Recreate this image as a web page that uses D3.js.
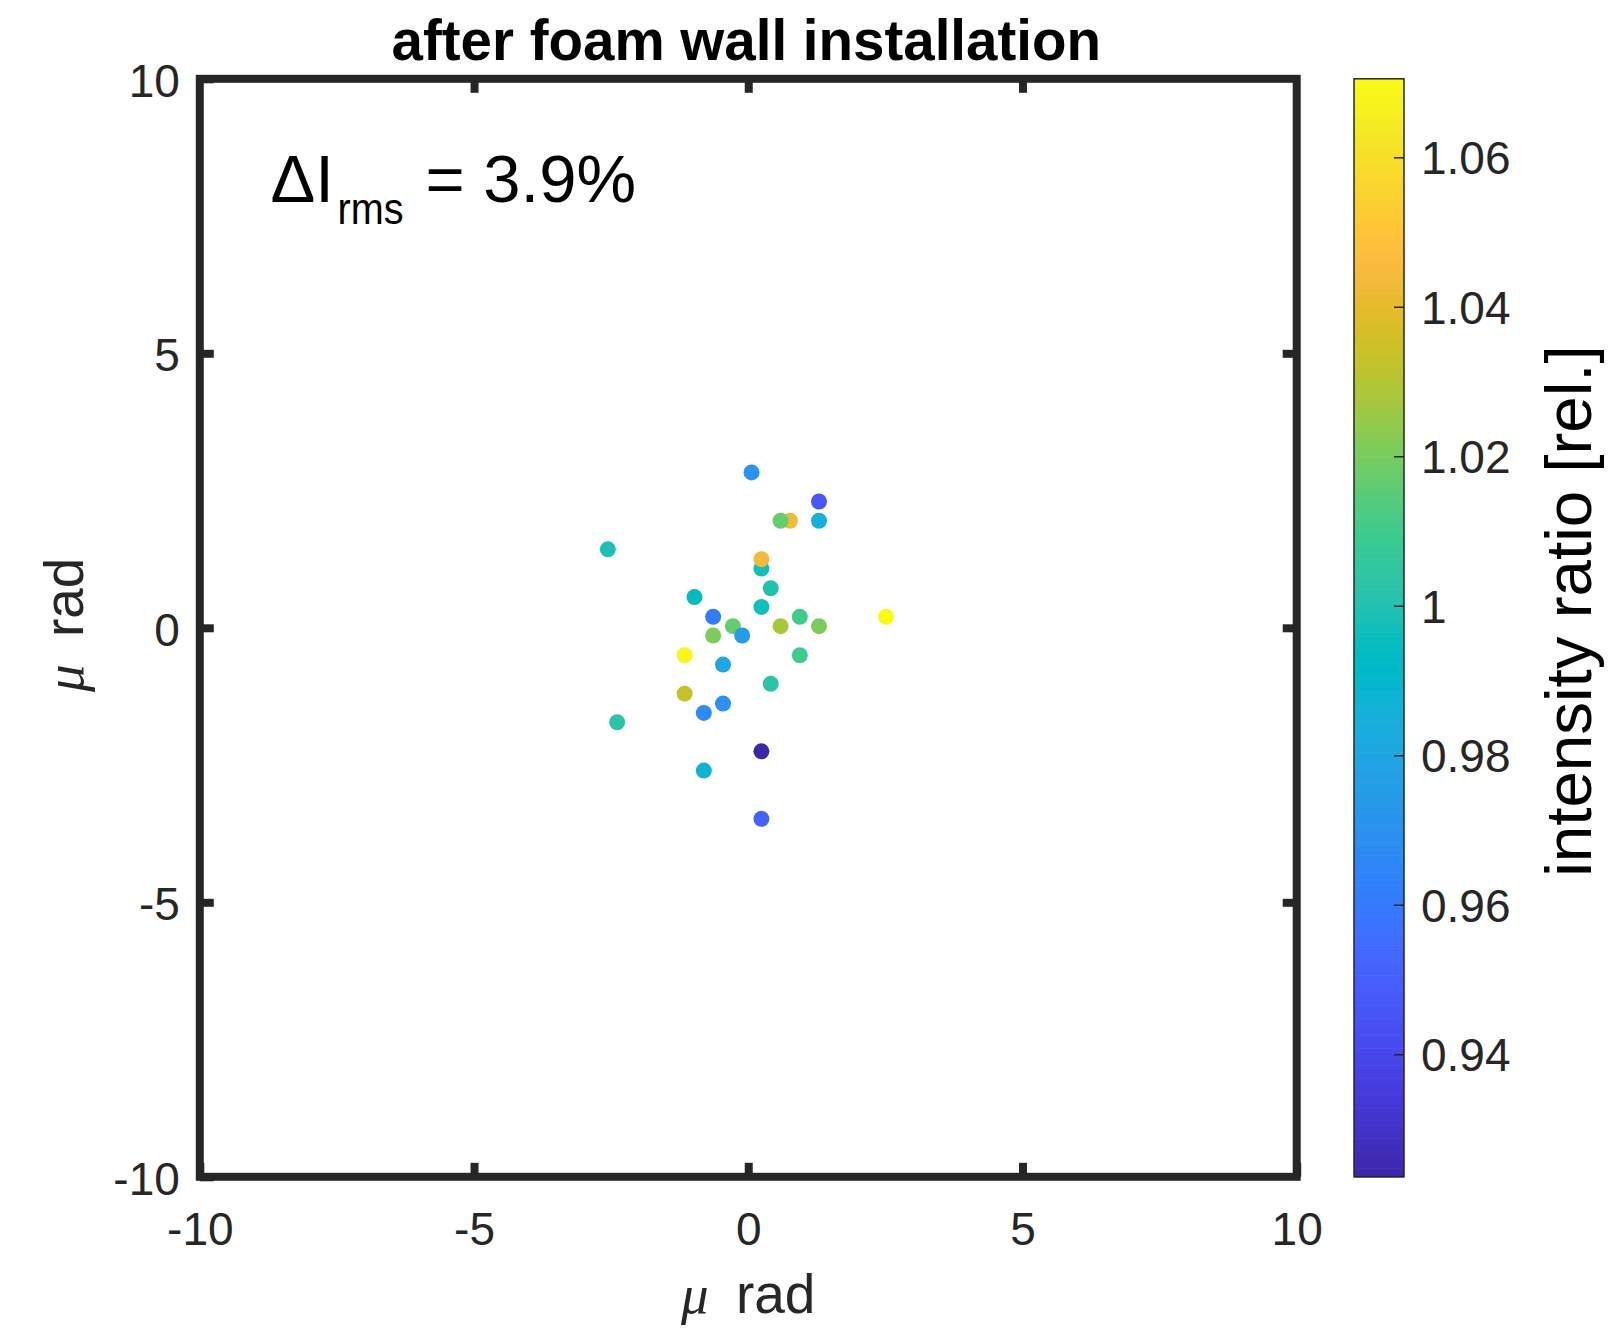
<!DOCTYPE html>
<html>
<head>
<meta charset="utf-8">
<script src="https://cdn.jsdelivr.net/npm/d3@7"></script>
<style>
    body { margin: 0; background: #fff; }
    text { font-family: "Liberation Sans", Arial, Helvetica, sans-serif; }
</style>
</head>
<body>
<div class="main"></div>
<script>
const WIDTH = 1613;
const HEIGHT = 1331;
const AXIS_COLOR = "#262626";

// beam positions (μrad) and intensity ratio, one entry per point, in draw order
const posX = [0.06, 1.29, 0.76, 0.59, 1.29, -2.56, 0.24, 0.24, 0.41, -0.98,
              0.24, -0.64, 0.94, 2.51, -0.28, 0.59, 1.29, -0.64, -0.11, -1.16,
              0.94, -0.46, 0.41, -1.16, -0.46, -0.81, -2.39, 0.24, -0.81, 0.24];
const posY = [2.83, 2.30, 1.95, 1.95, 1.95, 1.43, 1.08, 1.25, 0.72, 0.56,
              0.38, 0.20, 0.20, 0.20, 0.03, 0.03, 0.03, -0.14, -0.14, -0.50,
              -0.50, -0.67, -1.02, -1.20, -1.38, -1.55, -1.72, -2.25, -2.60, -3.48];
const ratio = [0.971, 0.946, 1.043, 1.017, 0.985, 0.999, 0.997, 1.044, 1.000, 0.994,
               0.997, 0.961, 1.010, 1.0705, 1.017, 1.028, 1.021, 1.021, 0.975, 1.069,
               1.010, 0.981, 1.003, 1.033, 0.969, 0.968, 1.003, 0.9236, 0.9875, 0.951];

const axisTicks = [-10, -5, 0, 5, 10];
const barTicks = [0.94, 0.96, 0.98, 1, 1.02, 1.04, 1.06];

const titleText = "after foam wall installation";
const axisLabel = "rad";
const barLabel = "intensity ratio [rel.]";

// parula colormap
const parula = [
    [0.2422,0.1504,0.6603],[0.2503,0.1650,0.7076],[0.2578,0.1818,0.7511],[0.2647,0.1978,0.7952],
    [0.2706,0.2147,0.8364],[0.2751,0.2342,0.8710],[0.2783,0.2559,0.8991],[0.2803,0.2782,0.9221],
    [0.2813,0.3006,0.9414],[0.2810,0.3228,0.9579],[0.2795,0.3447,0.9717],[0.2760,0.3667,0.9829],
    [0.2699,0.3892,0.9906],[0.2602,0.4123,0.9952],[0.2440,0.4358,0.9988],[0.2206,0.4603,0.9973],
    [0.1963,0.4847,0.9892],[0.1834,0.5074,0.9798],[0.1786,0.5289,0.9682],[0.1764,0.5499,0.9520],
    [0.1687,0.5703,0.9359],[0.1540,0.5902,0.9218],[0.1460,0.6091,0.9079],[0.1380,0.6276,0.8973],
    [0.1248,0.6459,0.8883],[0.1113,0.6635,0.8763],[0.0952,0.6798,0.8598],[0.0689,0.6948,0.8394],
    [0.0297,0.7082,0.8163],[0.0036,0.7203,0.7917],[0.0067,0.7312,0.7660],[0.0433,0.7411,0.7394],
    [0.0964,0.7500,0.7120],[0.1408,0.7584,0.6842],[0.1717,0.7670,0.6554],[0.1938,0.7758,0.6251],
    [0.2161,0.7843,0.5923],[0.2470,0.7918,0.5567],[0.2906,0.7973,0.5188],[0.3406,0.8008,0.4789],
    [0.3909,0.8029,0.4354],[0.4456,0.8024,0.3909],[0.5044,0.7993,0.3480],[0.5616,0.7942,0.3045],
    [0.6174,0.7876,0.2612],[0.6720,0.7793,0.2227],[0.7242,0.7698,0.1910],[0.7738,0.7598,0.1646],
    [0.8203,0.7498,0.1535],[0.8634,0.7406,0.1596],[0.9035,0.7330,0.1774],[0.9393,0.7288,0.2100],
    [0.9728,0.7298,0.2394],[0.9956,0.7434,0.2371],[0.9970,0.7659,0.2199],[0.9952,0.7893,0.2028],
    [0.9892,0.8136,0.1885],[0.9786,0.8386,0.1766],[0.9676,0.8639,0.1643],[0.9610,0.8890,0.1537],
    [0.9597,0.9135,0.1423],[0.9628,0.9373,0.1265],[0.9691,0.9606,0.1064],[0.9769,0.9839,0.0805]
].map(c => d3.rgb(c[0] * 255, c[1] * 255, c[2] * 255));

const margin = {left: 199.8, right: 1296.7, top: 78.8, bottom: 1176.8};
const bar = {x: 1354, w: 50};

var svg = d3.select(".main")
    .append("svg")
        .attr("width", WIDTH)
        .attr("height", HEIGHT);

svg.append("rect")
    .attr("width", WIDTH)
    .attr("height", HEIGHT)
    .attr("fill", "#fff");

var x = d3.scaleLinear().domain([-10, 10]).range([margin.left, margin.right]);
var y = d3.scaleLinear().domain([-10, 10]).range([margin.bottom, margin.top]);
var color = d3.scaleSequential(d3.piecewise(d3.interpolateRgb, parula))
    .domain(d3.extent(ratio));

// scatter points
var points = d3.range(posX.length);
svg.append("g")
    .selectAll("circle")
    .data(points)
    .join("circle")
    .attr("cx", i => x(posX[i]))
    .attr("cy", i => y(posY[i]))
    .attr("r", 8)
    .attr("fill", i => color(ratio[i]));

// axes, ticks point inward on all four sides
function styleAxis(g) {
    g.select(".domain").remove();
    g.selectAll(".tick line")
        .attr("stroke", AXIS_COLOR)
        .attr("stroke-width", 8);
    g.selectAll(".tick text")
        .attr("fill", AXIS_COLOR)
        .attr("font-size", 46)
        .attr("font-family", "Liberation Sans, Arial, sans-serif");
}

var fmt = d => String(d);
var inner = [-5, 0, 5];

svg.append("g")
    .attr("transform", `translate(0,${margin.bottom})`)
    .call(d3.axisBottom(x).tickValues(axisTicks).tickFormat(fmt).tickSizeInner(-14).tickSizeOuter(0).tickPadding(36))
    .call(styleAxis);
svg.append("g")
    .attr("transform", `translate(0,${margin.top})`)
    .call(d3.axisTop(x).tickValues(inner).tickFormat("").tickSizeInner(-14).tickSizeOuter(0))
    .call(styleAxis);
svg.append("g")
    .attr("transform", `translate(${margin.left},0)`)
    .call(d3.axisLeft(y).tickValues(axisTicks).tickFormat(fmt).tickSizeInner(-14).tickSizeOuter(0).tickPadding(20))
    .call(styleAxis)
    .selectAll(".tick text").attr("dy", "0.38em");
svg.append("g")
    .attr("transform", `translate(${margin.right},0)`)
    .call(d3.axisRight(y).tickValues(inner).tickFormat("").tickSizeInner(-14).tickSizeOuter(0))
    .call(styleAxis);

// box
svg.append("rect")
    .attr("x", margin.left)
    .attr("y", margin.top)
    .attr("width", margin.right - margin.left)
    .attr("height", margin.bottom - margin.top)
    .attr("fill", "none")
    .attr("stroke", AXIS_COLOR)
    .attr("stroke-width", 8)
    .attr("stroke-linecap", "square");

// axis labels
function muLabel(sel) {
    sel.attr("text-anchor", "middle")
        .attr("font-size", 55)
        .attr("fill", AXIS_COLOR);
    sel.append("tspan").attr("font-family", "Liberation Serif, serif").attr("font-style", "italic").text("μ");
    sel.append("tspan").attr("dx", 12).text(" " + axisLabel);
}

svg.append("text")
    .attr("x", x(0))
    .attr("y", 1313)
    .call(muLabel);

svg.append("text")
    .attr("transform", `translate(83,${y(0) - 3}) rotate(-90)`)
    .call(muLabel);

// title
svg.append("text")
    .attr("x", x(0) - 2)
    .attr("y", 60)
    .attr("text-anchor", "middle")
    .attr("font-size", 56.5)
    .attr("font-weight", "bold")
    .attr("fill", "#000")
    .text(titleText);

// rms annotation
svg.append("text")
    .attr("x", x(-8.71))
    .attr("y", y(7.76))
    .attr("font-size", 67)
    .attr("fill", "#000")
    .text("ΔI");
svg.append("text")
    .attr("x", x(-8.71) + 67)
    .attr("y", y(7.76) + 22)
    .attr("font-size", 44)
    .attr("textLength", 66)
    .attr("lengthAdjust", "spacingAndGlyphs")
    .attr("fill", "#000")
    .text("rms");
svg.append("text")
    .attr("x", x(-8.71) + 155)
    .attr("y", y(7.76))
    .attr("font-size", 67)
    .attr("fill", "#000")
    .text("= 3.9%");

// colorbar
var cy = d3.scaleLinear().domain(color.domain()).range([margin.bottom, margin.top]);
var steps = d3.range(256);
var stepH = (margin.bottom - margin.top) / steps.length;
svg.append("g")
    .selectAll("rect")
    .data(steps)
    .join("rect")
    .attr("x", bar.x)
    .attr("y", i => margin.bottom - (i + 1) * stepH)
    .attr("width", bar.w)
    .attr("height", stepH + 0.6)
    .attr("fill", i => color(cy.invert(margin.bottom - (i + 0.5) * stepH)));

svg.append("rect")
    .attr("x", bar.x)
    .attr("y", margin.top)
    .attr("width", bar.w)
    .attr("height", margin.bottom - margin.top)
    .attr("fill", "none")
    .attr("stroke", AXIS_COLOR)
    .attr("stroke-width", 1.5);

svg.append("g")
    .attr("transform", `translate(${bar.x + bar.w},0)`)
    .call(d3.axisRight(cy).tickValues(barTicks).tickFormat(fmt).tickSizeInner(-10).tickSizeOuter(0).tickPadding(17))
    .call(styleAxis)
    .call(g => g.selectAll(".tick line").attr("stroke-width", 1.5))
    .selectAll(".tick text").attr("dy", "0.36em");

svg.append("text")
    .attr("transform", `translate(1591,611) rotate(-90)`)
    .attr("text-anchor", "middle")
    .attr("font-size", 65.5)
    .attr("fill", "#000")
    .text(barLabel);
</script>
</body>
</html>
